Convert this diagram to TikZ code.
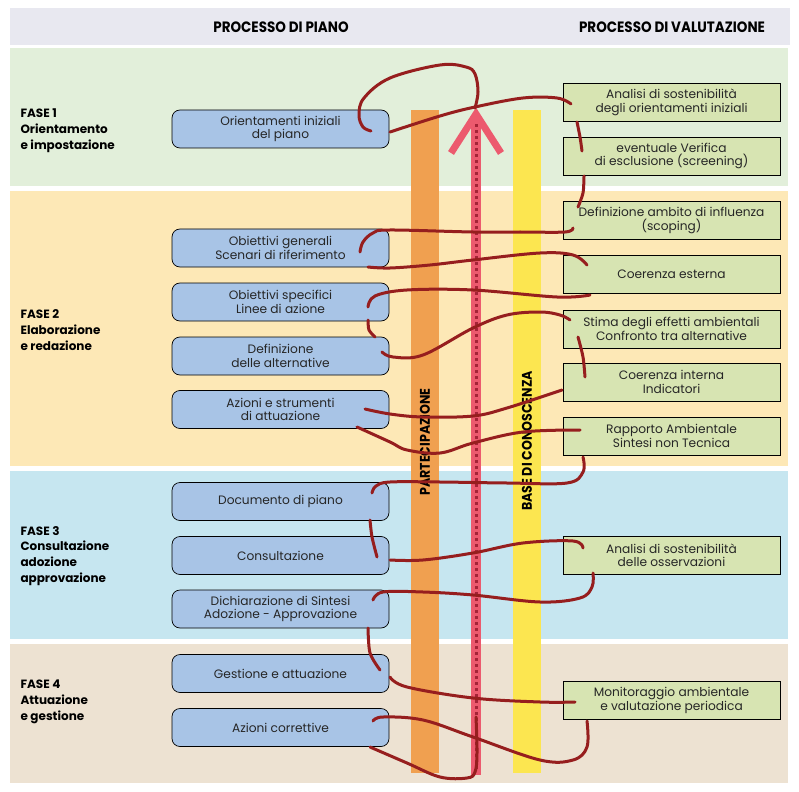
\documentclass[tikz,border=0pt]{standalone}
\usepackage{fontspec}
\setmainfont{Poppins}
\newfontfamily\headfont[FakeStretch=0.9]{Poppins}

\definecolor{headgray}{RGB}{232,232,240}
\definecolor{fasegreen}{RGB}{226,239,218}
\definecolor{faseorange}{RGB}{253,232,182}
\definecolor{faseblue}{RGB}{198,230,240}
\definecolor{fasebeige}{RGB}{237,226,210}
\definecolor{pianoblue}{RGB}{168,196,230}
\definecolor{valgreen}{RGB}{215,228,178}
\definecolor{partorange}{RGB}{240,160,80}
\definecolor{baseyellow}{RGB}{252,230,80}
\definecolor{arrowpink}{RGB}{236,90,110}
\definecolor{dotred}{RGB}{165,35,55}
\definecolor{coilred}{RGB}{150,30,30}

\tikzstyle{pianobox} = [draw=black, fill=pianoblue, line width=0.7pt,
    rectangle, rounded corners=8pt, minimum width=217pt, minimum height=38pt,
    align=center, font=\fontsize{12.2}{13.5}\selectfont, text=black!85]
\tikzstyle{valbox} = [draw=black, fill=valgreen, line width=0.7pt,
    rectangle, minimum width=217pt, minimum height=38pt, inner xsep=2pt,
    align=center, font=\fontsize{12.2}{13.5}\selectfont, text=black!85]
\tikzstyle{fasetitle} = [anchor=west, align=left,
    font=\bfseries\fontsize{12}{15.8}\selectfont]
\tikzstyle{headtitle} = [font=\headfont\bfseries\fontsize{15}{17}\selectfont]
\tikzstyle{bartitle} = [rotate=90, font=\headfont\bfseries\fontsize{14}{16}\selectfont]
\tikzstyle{coil} = [draw=coilred, line width=3pt, line cap=round, line join=round]

\begin{document}
\begin{tikzpicture}[x=1pt, y=-1pt]
\useasboundingbox (0,0) rectangle (799,791);

% bands
\fill[headgray] (10,8) rectangle (790,45);
\fill[fasegreen] (10,48) rectangle (788,186);
\fill[faseorange] (10,191) rectangle (788,466);
\fill[faseblue] (10,471) rectangle (788,639);
\fill[fasebeige] (10,644) rectangle (788,783);

\node[headtitle] (hpiano) at (281,27) {PROCESSO DI PIANO};
\node[headtitle] (hval) at (672,27) {PROCESSO DI VALUTAZIONE};

\node[fasetitle] (fase1) at (17,131) {FASE 1\\Orientamento\\e impostazione};
\node[fasetitle] (fase2) at (17,330) {FASE 2\\Elaborazione\\e redazione};
\node[fasetitle] (fase3) at (17,556) {FASE 3\\Consultazione\\adozione\\approvazione};
\node[fasetitle] (fase4) at (17,702) {FASE 4\\Attuazione\\e gestione};

% bars
\fill[partorange] (411,110) rectangle (439,773);
\fill[baseyellow] (513,110) rectangle (541,773);
\node[bartitle] (part) at (425,442) {PARTECIPAZIONE};
\node[bartitle] (base) at (527,441) {BASE DI CONOSCENZA};

% arrow
\fill[arrowpink] (471,116) rectangle (481,775);
\draw[arrowpink, line width=7pt] (451,153) -- (476,114) -- (501,153);
\foreach \y in {124,130,...,770}
    \fill[dotred] (474.6,\y) rectangle (477.6,\y+3);

% processo di piano
\node[pianobox] (orient) at (280.5,129) {Orientamenti iniziali\\del piano};
\node[pianobox] (obgen) at (280.5,248) {Obiettivi generali\\Scenari di riferimento};
\node[pianobox] (obspec) at (280.5,302) {Obiettivi specifici\\Linee di azione};
\node[pianobox] (defalt) at (280.5,356) {Definizione\\delle alternative};
\node[pianobox] (azstr) at (280.5,409.5) {Azioni e strumenti\\di attuazione};
\node[pianobox] (docum) at (280.5,501.5) {Documento di piano};
\node[pianobox] (consult) at (280.5,555.5) {Consultazione};
\node[pianobox] (dichiar) at (280.5,609) {Dichiarazione di Sintesi\\Adozione - Approvazione};
\node[pianobox] (gestione) at (280.5,673.5) {Gestione e attuazione};
\node[pianobox] (azcorr) at (280.5,727.5) {Azioni correttive};

% processo di valutazione
\node[valbox] (analisi) at (671.5,102.5) {Analisi di sostenibilità\\degli orientamenti iniziali};
\node[valbox] (screen) at (671.5,156) {eventuale Verifica\\di esclusione (screening)};
\node[valbox] (scoping) at (671.5,220.5) {Definizione ambito di influenza\\(scoping)};
\node[valbox] (coerest) at (671.5,274.5) {Coerenza esterna};
\node[valbox] (stima) at (671.5,329) {Stima degli effetti ambientali\\Confronto tra alternative};
\node[valbox] (coerint) at (671.5,382) {Coerenza interna\\Indicatori};
\node[valbox] (rapporto) at (671.5,436) {Rapporto Ambientale\\Sintesi non Tecnica};
\node[valbox] (osserv) at (671.5,555.5) {Analisi di sostenibilità\\delle osservazioni};
\node[valbox] (monit) at (671.5,700.5) {Monitoraggio ambientale\\e valutazione periodica};

% spirale
\draw[coil] plot[smooth, tension=0.6] coordinates {(475,108) (478,92) (475,74) (466,67) (440,65) (390,78) (364,98) (359,115) (363,127) (371,131)};
\draw[coil] plot[smooth, tension=0.6] coordinates {(390,132) (440,116) (475,107) (523,98) (557,98) (571,104)};
\draw[coil] plot[smooth] coordinates {(577,122) (580,137) (582,151)};
\draw[coil] plot[smooth] coordinates {(584,176) (583,193) (578,207)};
\draw[coil] plot[smooth, tension=0.6] coordinates {(573,228) (565,232) (520,232) (473,232) (390,230) (373,233) (363,242) (360,252)};
\draw[coil] plot[smooth, tension=0.6] coordinates {(368,267) (390,268) (430,265) (473,260) (540,253) (573,255) (587,265)};
\draw[coil] plot[smooth, tension=0.6] coordinates {(590,295) (557,297) (473,290) (407,290) (375,296) (368,307)};
\draw[coil] plot[smooth] coordinates {(368,320) (369,330) (375,337)};
\draw[coil] plot[smooth, tension=0.6] coordinates {(382,352) (393,357) (423,355) (473,328) (507,315) (540,312) (560,315) (570,320)};
\draw[coil] plot[smooth] coordinates {(578,337) (583,357) (585,377)};
\draw[coil] plot[smooth, tension=0.6] coordinates {(562,390) (507,408) (473,416) (423,417) (390,414) (365,409)};
\draw[coil] plot[smooth, tension=0.6] coordinates {(357,427) (390,442) (407,450) (440,453) (473,443) (523,432) (580,430)};
\draw[coil] plot[smooth, tension=0.6] coordinates {(583,457) (583,472) (567,483) (507,483) (440,482) (390,482) (376,486) (372,493)};
\draw[coil] plot[smooth] coordinates {(370,520) (372,537) (377,557)};
\draw[coil] plot[smooth, tension=0.6] coordinates {(390,560) (423,560) (473,553) (523,543) (573,541) (583,548)};
\draw[coil] plot[smooth, tension=0.6] coordinates {(593,573) (592,587) (580,598) (540,602) (473,595) (423,592) (383,592) (373,600)};
\draw[coil] plot[smooth] coordinates {(368,628) (370,653) (380,670)};
\draw[coil] plot[smooth, tension=0.6] coordinates {(390,677) (407,687) (473,698) (540,702) (575,702)};
\draw[coil] plot[smooth, tension=0.6] coordinates {(587,721) (587,747) (573,760) (540,760) (473,737) (423,720) (383,717) (373,721)};
\draw[coil] plot[smooth, tension=0.6] coordinates {(370,747) (407,763) (440,777) (467,778) (475,772) (477,753) (476,717)};
\end{tikzpicture}
\end{document}
